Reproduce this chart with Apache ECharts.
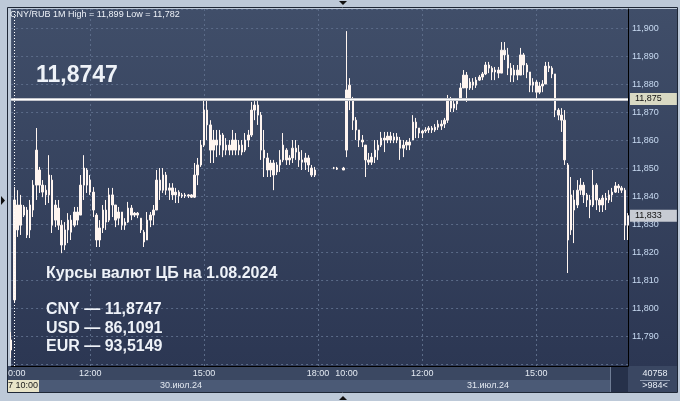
<!DOCTYPE html>
<html><head><meta charset="utf-8">
<script src="https://cdn.jsdelivr.net/npm/echarts@6/dist/echarts.min.js"></script>
<style>html,body{margin:0;padding:0;background:#bdc9d8;}#c{width:680px;height:401px;}</style>
</head><body><div id="c"></div>
<script>
// ---- data ----
const DAY1 = '30.07', DAY2 = '31.07';
const DAY1_FIRST = '09:55', DAY1_LAST = '18:40';
const DAY2_FIRST = '10:00', DAY2_LAST = '17:25';
const BAR_MINUTES = 5;
const TICK_LABELS = ['30.07 10:00','30.07 12:00','30.07 15:00','30.07 18:00','31.07 10:00','31.07 12:00','31.07 15:00'];
const GRID_TIMES = ['30.07 12:00','30.07 15:00','30.07 18:00','31.07 12:00','31.07 15:00'];
const CROSSHAIR_AT = '30.07 10:00';
const DATE_LABELS = ['30.июл.24', '31.июл.24'];
const Y_MIN = 11.7793, Y_MAX = 11.9068;
const CB_RATE = 11.8747;
const LAST_PRICE = 11.833;
const TITLE = 'CNY/RUB 1M High = 11,899 Low = 11,782';
const CB_HEADING = 'Курсы валют ЦБ на 1.08.2024';
const CB_LINES = ['CNY — 11,8747', 'USD — 86,1091', 'EUR — 93,5149'];
const BIG_RATE = '11,8747';
const FOOT_COUNT = '40758', FOOT_BARS = '>984<', CURSOR_TIME = '30.07 10:00';

const OPEN = [
11.7886,11.8029,11.8368,11.8296,11.8361,11.8350,11.8279,11.8350,11.8439,11.8493,
11.8439,11.8421,11.8404,11.8457,11.8314,11.8357,11.8296,11.8225,11.8279,11.8314,
11.8296,11.8343,11.8332,11.8439,11.8493,11.8457,11.8414,11.8332,11.8243,11.8286,
11.8350,11.8314,11.8404,11.8368,11.8321,11.8343,11.8296,11.8307,11.8357,11.8332,
11.8339,11.8321,11.8271,11.8243,11.8314,11.8332,11.8350,11.8457,11.8421,11.8475,
11.8421,11.8429,11.8404,11.8414,11.8400,11.8404,11.8400,11.8404,11.8396,11.8475,
11.8511,11.8582,11.8707,11.8654,11.8564,11.8600,11.8582,11.8618,11.8564,11.8582,
11.8564,11.8600,11.8564,11.8582,11.8564,11.8600,11.8618,11.8707,11.8725,11.8689,
11.8564,11.8536,11.8493,11.8518,11.8486,11.8511,11.8529,11.8564,11.8529,11.8536,
11.8571,11.8557,11.8529,11.8521,11.8536,11.8500,11.8475,null,null,null,
null,null,11.8500,11.8500,null,11.8500,11.8564,11.8796,11.8743,11.8671,
11.8636,11.8600,11.8582,11.8529,11.8521,11.8539,11.8564,11.8582,11.8607,11.8600,
11.8614,11.8600,11.8611,11.8600,11.8571,11.8582,11.8593,11.8600,11.8664,11.8643,
11.8625,11.8632,11.8636,11.8643,11.8636,11.8646,11.8657,11.8657,11.8671,11.8743,
11.8714,11.8729,11.8743,11.8786,11.8832,11.8786,11.8807,11.8796,11.8814,11.8825,
11.8836,11.8868,11.8857,11.8843,11.8850,11.8839,11.8921,11.8904,11.8857,11.8832,
11.8850,11.8832,11.8904,11.8868,11.8843,11.8796,11.8807,11.8771,11.8793,11.8800,
11.8864,11.8857,11.8836,11.8707,11.8689,11.8671,11.8511,11.8279,11.8386,11.8368,
11.8421,11.8439,11.8404,11.8386,11.8368,11.8439,11.8386,11.8368,11.8393,11.8386,
11.8404,11.8414,11.8436,11.8429,11.8421,11.8296];
const CLOSE = [
11.7850,11.8386,11.8279,11.8368,11.8332,11.8261,11.8368,11.8439,11.8564,11.8439,
11.8414,11.8404,11.8475,11.8296,11.8368,11.8296,11.8225,11.8279,11.8314,11.8271,
11.8343,11.8314,11.8439,11.8500,11.8439,11.8414,11.8350,11.8243,11.8286,11.8350,
11.8307,11.8404,11.8368,11.8314,11.8343,11.8296,11.8307,11.8357,11.8332,11.8339,
11.8332,11.8279,11.8236,11.8314,11.8332,11.8350,11.8457,11.8421,11.8475,11.8421,
11.8429,11.8404,11.8414,11.8400,11.8404,11.8400,11.8404,11.8396,11.8475,11.8511,
11.8582,11.8707,11.8654,11.8564,11.8600,11.8582,11.8618,11.8564,11.8582,11.8564,
11.8600,11.8564,11.8582,11.8557,11.8600,11.8618,11.8707,11.8725,11.8689,11.8564,
11.8536,11.8493,11.8518,11.8475,11.8511,11.8529,11.8582,11.8529,11.8536,11.8571,
11.8557,11.8529,11.8521,11.8536,11.8511,11.8475,11.8493,null,null,null,
null,null,11.8500,11.8496,null,11.8493,11.8779,11.8743,11.8671,11.8636,
11.8600,11.8593,11.8529,11.8521,11.8539,11.8564,11.8582,11.8607,11.8600,11.8614,
11.8600,11.8611,11.8600,11.8571,11.8582,11.8593,11.8582,11.8664,11.8643,11.8625,
11.8632,11.8636,11.8643,11.8636,11.8646,11.8657,11.8650,11.8671,11.8743,11.8714,
11.8729,11.8743,11.8786,11.8832,11.8786,11.8807,11.8796,11.8814,11.8825,11.8836,
11.8868,11.8857,11.8843,11.8850,11.8839,11.8921,11.8904,11.8857,11.8832,11.8850,
11.8832,11.8904,11.8868,11.8843,11.8796,11.8807,11.8771,11.8793,11.8800,11.8864,
11.8857,11.8836,11.8707,11.8689,11.8671,11.8529,11.8243,11.8404,11.8350,11.8421,
11.8439,11.8404,11.8386,11.8368,11.8439,11.8386,11.8368,11.8393,11.8386,11.8404,
11.8414,11.8436,11.8429,11.8421,11.8296,11.8330];
const LOW = [
11.7821,11.8018,11.8254,11.8261,11.8325,11.8250,11.8250,11.8325,11.8386,11.8411,
11.8396,11.8368,11.8375,11.8268,11.8289,11.8279,11.8196,11.8207,11.8232,11.8243,
11.8289,11.8296,11.8332,11.8386,11.8411,11.8404,11.8325,11.8218,11.8218,11.8268,
11.8279,11.8307,11.8325,11.8289,11.8296,11.8279,11.8279,11.8304,11.8314,11.8325,
11.8321,11.8268,11.8218,11.8243,11.8289,11.8296,11.8350,11.8386,11.8411,11.8404,
11.8386,11.8386,11.8375,11.8375,11.8393,11.8393,11.8393,11.8393,11.8393,11.8439,
11.8504,11.8575,11.8600,11.8518,11.8518,11.8539,11.8546,11.8539,11.8546,11.8546,
11.8546,11.8546,11.8546,11.8546,11.8557,11.8575,11.8611,11.8671,11.8654,11.8529,
11.8468,11.8468,11.8468,11.8421,11.8475,11.8486,11.8521,11.8511,11.8511,11.8518,
11.8529,11.8504,11.8493,11.8493,11.8486,11.8468,11.8468,null,null,null,
null,null,11.8496,11.8493,null,11.8493,11.8539,11.8707,11.8636,11.8600,
11.8575,11.8575,11.8468,11.8511,11.8511,11.8518,11.8529,11.8575,11.8557,11.8589,
11.8589,11.8589,11.8589,11.8529,11.8539,11.8564,11.8564,11.8600,11.8607,11.8607,
11.8607,11.8625,11.8625,11.8625,11.8629,11.8636,11.8636,11.8643,11.8661,11.8700,
11.8700,11.8707,11.8743,11.8786,11.8736,11.8779,11.8779,11.8786,11.8811,11.8814,
11.8832,11.8839,11.8814,11.8814,11.8821,11.8839,11.8886,11.8832,11.8807,11.8807,
11.8814,11.8832,11.8832,11.8821,11.8771,11.8771,11.8743,11.8764,11.8771,11.8800,
11.8843,11.8821,11.8682,11.8671,11.8629,11.8511,11.8125,11.8261,11.8232,11.8357,
11.8404,11.8375,11.8361,11.8321,11.8361,11.8350,11.8343,11.8343,11.8350,11.8375,
11.8379,11.8411,11.8411,11.8411,11.8243,11.8243];
const HIGH = [
11.7914,11.8432,11.8421,11.8404,11.8368,11.8361,11.8386,11.8457,11.8643,11.8504,
11.8457,11.8439,11.8546,11.8475,11.8386,11.8386,11.8314,11.8307,11.8339,11.8332,
11.8361,11.8361,11.8475,11.8546,11.8500,11.8475,11.8432,11.8339,11.8314,11.8368,
11.8386,11.8429,11.8429,11.8368,11.8361,11.8343,11.8321,11.8379,11.8368,11.8343,
11.8343,11.8321,11.8279,11.8343,11.8343,11.8368,11.8493,11.8500,11.8500,11.8486,
11.8446,11.8446,11.8429,11.8421,11.8411,11.8411,11.8407,11.8407,11.8518,11.8536,
11.8600,11.8746,11.8750,11.8671,11.8636,11.8636,11.8636,11.8625,11.8607,11.8600,
11.8636,11.8625,11.8600,11.8600,11.8625,11.8636,11.8736,11.8739,11.8739,11.8700,
11.8636,11.8554,11.8529,11.8529,11.8521,11.8564,11.8625,11.8571,11.8546,11.8600,
11.8600,11.8582,11.8564,11.8554,11.8546,11.8511,11.8504,null,null,null,
null,null,11.8504,11.8504,null,11.8504,11.8989,11.8821,11.8754,11.8682,
11.8636,11.8618,11.8582,11.8554,11.8554,11.8600,11.8600,11.8629,11.8629,11.8629,
11.8629,11.8625,11.8625,11.8611,11.8600,11.8600,11.8607,11.8689,11.8679,11.8643,
11.8636,11.8646,11.8650,11.8650,11.8657,11.8671,11.8671,11.8679,11.8761,11.8754,
11.8743,11.8750,11.8804,11.8850,11.8843,11.8821,11.8821,11.8825,11.8832,11.8843,
11.8879,11.8879,11.8864,11.8861,11.8861,11.8950,11.8950,11.8929,11.8875,11.8868,
11.8868,11.8929,11.8911,11.8875,11.8843,11.8821,11.8814,11.8807,11.8814,11.8879,
11.8879,11.8864,11.8836,11.8714,11.8714,11.8707,11.8518,11.8468,11.8421,11.8457,
11.8464,11.8450,11.8411,11.8404,11.8493,11.8446,11.8393,11.8404,11.8411,11.8421,
11.8429,11.8450,11.8443,11.8436,11.8429,11.8339];

// ---- build categories (bar timestamps) ----
function toMin(s){const p=s.split(':');return (+p[0])*60+(+p[1]);}
function toStr(m){const h=Math.floor(m/60),mm=m%60;return (h<10?'0':'')+h+':'+(mm<10?'0':'')+mm;}
const CATEGORIES = [];
for (let m = toMin(DAY1_FIRST); m <= toMin(DAY1_LAST); m += BAR_MINUTES) CATEGORIES.push(DAY1 + ' ' + toStr(m));
for (let m = toMin(DAY2_FIRST); m <= toMin(DAY2_LAST); m += BAR_MINUTES) CATEGORIES.push(DAY2 + ' ' + toStr(m));
const candles = CATEGORIES.map((c, i) => OPEN[i] == null ? '-' : [OPEN[i], CLOSE[i], LOW[i], HIGH[i]]);

const FONT = '"Liberation Sans", Arial, sans-serif';
const fmt3 = v => v.toFixed(3).replace('.', ',');
const WHITE = '#fff5f0';
const FRAME = '#bdc9d8';
const panelGrad = {type:'linear',x:0,y:0,x2:0,y2:1,colorStops:[{offset:0,color:'#404e69'},{offset:1,color:'#2c3753'}]};

const chart = echarts.init(document.getElementById('c'), null, {renderer:'canvas'});
chart.setOption({
  animation: false,
  backgroundColor: FRAME,
  grid: {left: 9, right: 52, top: 9, bottom: 35, show: true, backgroundColor: panelGrad, borderWidth: 0},
  xAxis: {
    type: 'category', data: CATEGORIES, boundaryGap: false,
    axisLine: {show: true, lineStyle: {color: '#000', width: 1}},
    axisTick: {show: false},
    axisLabel: {
      interval: (i, v) => TICK_LABELS.indexOf(v) >= 0,
      formatter: v => v.slice(6), color: '#e4eaf2', fontSize: 9, fontFamily: FONT, margin: 3
    },
    splitLine: {show: true, interval: (i, v) => GRID_TIMES.indexOf(v) >= 0,
      lineStyle: {color: '#5b6b88', type: [2, 3], width: 1}}
  },
  yAxis: {
    type: 'value', position: 'right', min: Y_MIN, max: Y_MAX, splitNumber: 12,
    minInterval: 0.01, maxInterval: 0.01, scale: true,
    axisLine: {show: true, lineStyle: {color: '#000', width: 1}},
    axisTick: {show: false},
    axisLabel: {formatter: v => (v < 11.785 || v > 11.905) ? '' : fmt3(v),
      color: '#c9dbf2', fontSize: 9, fontFamily: FONT, margin: 4, showMinLabel: false, showMaxLabel: false},
    splitLine: {show: true, lineStyle: {color: '#5b6b88', type: [2, 3], width: 1}}
  },
  series: [{
    type: 'candlestick', data: candles, barWidth: 2,
    itemStyle: {color: WHITE, color0: WHITE, borderColor: WHITE, borderColor0: WHITE, borderWidth: 1},
    markLine: {
      symbol: ['none', 'none'], silent: true, animation: false, precision: 4,
      data: [
        {yAxis: CB_RATE, lineStyle: {color: '#c3c5cc', width: 3, type: 'solid'},
          label: {show: true, position: 'end', formatter: () => fmt3(CB_RATE), color: '#111', fontSize: 9,
            fontFamily: FONT, backgroundColor: '#d9d9c3', padding: [2, 15, 1, 5], distance: 2}},
        {yAxis: CB_RATE, lineStyle: {color: '#ffffff', width: 1, type: 'solid'}, label: {show: false}},
        {yAxis: LAST_PRICE, lineStyle: {color: 'rgba(0,0,0,0)', width: 1},
          label: {show: true, position: 'end', formatter: () => fmt3(LAST_PRICE), color: '#111', fontSize: 9,
            fontFamily: FONT, backgroundColor: '#c7cbd3', padding: [2, 15, 1, 5], distance: 2}},
        {xAxis: CROSSHAIR_AT, lineStyle: {color: '#ffffff', type: [1, 2], width: 1}, label: {show: false}}
      ]
    }
  }],
  graphic: {elements: [
    {type:'rect', z:-10, shape:{x:628, y:9, width:49, height:357}, style:{fill: panelGrad}},
    {type:'rect', z:-10, shape:{x:8, y:366, width:620, height:14}, style:{fill:'#3b4862'}},
    {type:'rect', z:-10, shape:{x:8, y:380, width:603, height:12}, style:{fill:'#4b5a76'}},
    {type:'rect', z:-9, shape:{x:610, y:367, width:1, height:25}, style:{fill:'#6f7d95'}},
    {type:'rect', z:-9, shape:{x:611, y:367, width:17, height:25}, style:{fill:'#26314a'}},
    {type:'rect', z:-10, shape:{x:628, y:366, width:49, height:26}, style:{fill:'#3a4762'}},
    {type:'rect', z:5, shape:{x:640, y:380, width:30, height:1}, style:{fill:'#8d99ae'}},
    {type:'text', z:5, x:655, y:374, style:{text: FOOT_COUNT, fill:'#e8eef6', font:'9px ' + FONT, align:'center', verticalAlign:'middle', textAlign:'center', textVerticalAlign:'middle'}},
    {type:'text', z:5, x:655, y:386, style:{text: FOOT_BARS, fill:'#e8eef6', font:'9px ' + FONT, align:'center', verticalAlign:'middle', textAlign:'center', textVerticalAlign:'middle'}},
    {type:'text', z:5, x:181, y:386, style:{text: DATE_LABELS[0], fill:'#e4eaf2', font:'9px ' + FONT, align:'center', verticalAlign:'middle', textAlign:'center', textVerticalAlign:'middle'}},
    {type:'text', z:5, x:488, y:386, style:{text: DATE_LABELS[1], fill:'#e4eaf2', font:'9px ' + FONT, align:'center', verticalAlign:'middle', textAlign:'center', textVerticalAlign:'middle'}},
    {type:'rect', z:6, shape:{x:0, y:380, width:39, height:12}, style:{fill:'#e8e4c8'}},
    {type:'text', z:7, x:38, y:386, style:{text: CURSOR_TIME, fill:'#1a1a1a', font:'9px ' + FONT, align:'right', verticalAlign:'middle', textAlign:'right', textVerticalAlign:'middle'}},
    {type:'text', z:20, x:10, y:15, style:{text: TITLE, fill:'#eef2f8', font:'9px ' + FONT, align:'left', verticalAlign:'middle', textAlign:'left', textVerticalAlign:'middle'}},
    {type:'text', z:20, x:36, y:76, style:{text: BIG_RATE, fill:'#eef2f8', font:'bold 23px ' + FONT, align:'left', verticalAlign:'middle', textAlign:'left', textVerticalAlign:'middle'}},
    {type:'text', z:20, x:46, y:274, style:{text: CB_HEADING, fill:'#eef2f8', font:'bold 16px ' + FONT, align:'left', verticalAlign:'middle', textAlign:'left', textVerticalAlign:'middle'}},
    {type:'text', z:20, x:46, y:310, style:{text: CB_LINES[0], fill:'#eef2f8', font:'bold 16px ' + FONT, align:'left', verticalAlign:'middle', textAlign:'left', textVerticalAlign:'middle'}},
    {type:'text', z:20, x:46, y:328.5, style:{text: CB_LINES[1], fill:'#eef2f8', font:'bold 16px ' + FONT, align:'left', verticalAlign:'middle', textAlign:'left', textVerticalAlign:'middle'}},
    {type:'text', z:20, x:46, y:346.5, style:{text: CB_LINES[2], fill:'#eef2f8', font:'bold 16px ' + FONT, align:'left', verticalAlign:'middle', textAlign:'left', textVerticalAlign:'middle'}},
    {type:'rect', z:100, shape:{x:0, y:0, width:8, height:401}, style:{fill: FRAME}},
    {type:'rect', z:100, shape:{x:0, y:0, width:680, height:8}, style:{fill: FRAME}},
    {type:'rect', z:100, shape:{x:677, y:0, width:3, height:401}, style:{fill: FRAME}},
    {type:'rect', z:100, shape:{x:0, y:392, width:680, height:9}, style:{fill: FRAME}},
    {type:'rect', z:101, shape:{x:7.5, y:7.5, width:670, height:385}, style:{fill:'none', stroke:'#1e2736', lineWidth:1}},
    {type:'polygon', z:102, shape:{points:[[339,1],[347,1],[343,5]]}, style:{fill:'#111'}},
    {type:'polygon', z:102, shape:{points:[[339,400],[347,400],[343,396]]}, style:{fill:'#111'}},
    {type:'polygon', z:102, shape:{points:[[1,196],[1,205],[5,200.5]]}, style:{fill:'#111'}}
  ]}
});
</script></body></html>
